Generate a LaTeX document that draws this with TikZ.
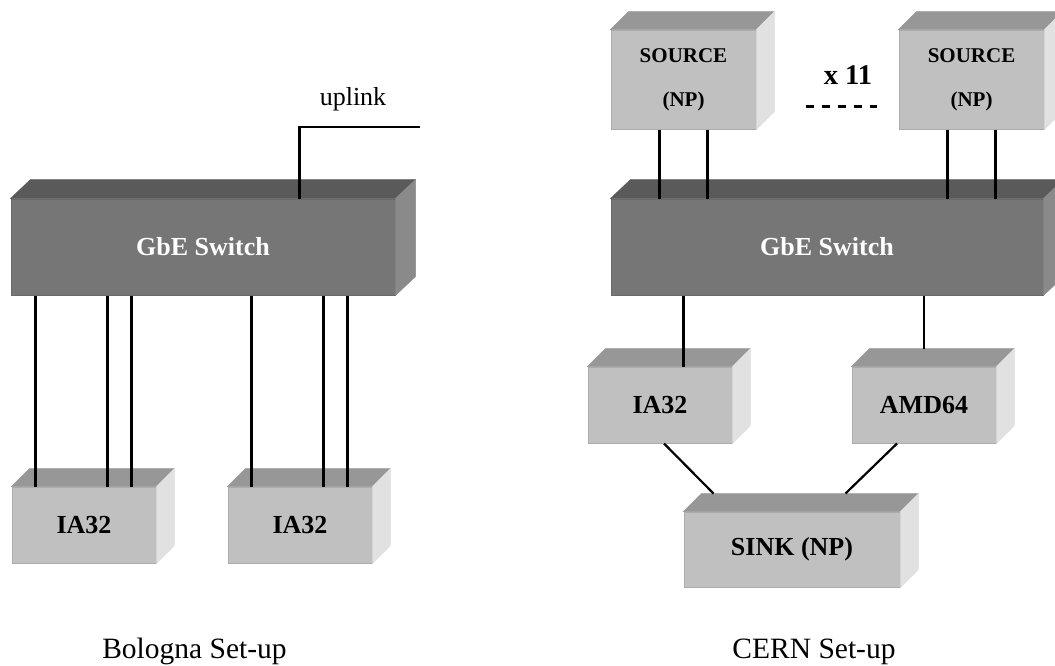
\documentclass[tikz,border=0pt]{standalone}
\usepackage{fontspec}
\setmainfont{Liberation Serif}
\usetikzlibrary{calc}

\definecolor{boxfront}{RGB}{192,192,192}
\definecolor{boxtop}{RGB}{151,151,151}
\definecolor{boxside}{RGB}{225,225,225}
\definecolor{boxedge}{RGB}{172,172,172}
\definecolor{swfront}{RGB}{118,118,118}
\definecolor{swtop}{RGB}{90,90,90}
\definecolor{swside}{RGB}{138,138,138}
\definecolor{swedge}{RGB}{105,105,105}

\begin{document}
\begin{tikzpicture}[x=1pt, y=-1pt, line width=2.2pt,
	box/.style={draw=boxedge, line width=1pt, fill=boxfront, inner sep=0pt, minimum width=144pt, minimum height=76pt, font=\fontsize{26}{30}\selectfont\bfseries},
	switch/.style={draw=swedge, line width=1pt, fill=swfront, inner sep=0pt, minimum height=96pt, text=white, font=\fontsize{26}{30}\selectfont\bfseries},
	source/.style={box, minimum width=145pt, minimum height=99pt, align=center, font=\fontsize{21}{44}\selectfont\bfseries},
	caption/.style={anchor=base, font=\fontsize{29.5}{32}\selectfont}]
	\useasboundingbox (0,0) rectangle (1055,665);
	\clip (0,0) rectangle (1055,665);

	% Bologna set-up
	\node[switch, minimum width=384pt] (bsw) at (203,247) {GbE Switch};
	\node[box] (bia1) at (84,525) {IA32};
	\node[box] (bia2) at (300,525) {IA32};

	% CERN set-up
	\node[source] (src1) at (683.5,79.5) {SOURCE\\(NP)};
	\node[source] (src2) at (971.5,79.5) {SOURCE\\(NP)};
	\node[switch, minimum width=432pt] (csw) at (827,247) {GbE Switch};
	\node[box] (cia) at (660,405) {IA32};
	\node[box] (amd) at (924,405) {AMD64};
	\node[box, minimum width=216pt, minimum height=75pt] (sink) at (792,549.5) {SINK (NP)};

	% top and side faces
	\foreach \n in {bsw,csw}{
		\filldraw[swtop, line width=.5pt] (\n.north west) -- ++(20,-19) -- ($(\n.north east)+(20,-19)$) -- (\n.north east) -- cycle;
		\filldraw[swside, line width=.5pt] (\n.north east) -- ++(20,-19) -- ($(\n.south east)+(20,-19)$) -- (\n.south east) -- cycle;
	}
	\foreach \n in {bia1,bia2,src1,src2,cia,amd,sink}{
		\filldraw[boxtop, line width=.5pt] (\n.north west) -- ++(18,-18) -- ($(\n.north east)+(18,-18)$) -- (\n.north east) -- cycle;
		\filldraw[boxside, line width=.5pt] (\n.north east) -- ++(18,-18) -- ($(\n.south east)+(18,-18)$) -- (\n.south east) -- cycle;
	}

	% links
	\foreach \n in {bia1,bia2}
		\foreach \dx in {24,96,120}
			\draw ([xshift=\dx pt]\n.north west) -- ([xshift=\dx pt]\n.north west |- bsw.south);
	\foreach \n in {src1,src2}
		\foreach \dx in {49,97}
			\draw ([xshift=\dx pt]\n.south west) -- ([xshift=\dx pt]\n.south west |- csw.north);
	\coordinate (uplinkend) at (420,127);
	\draw ([xshift=289pt]bsw.north west) |- (uplinkend);
	\node[anchor=base, font=\fontsize{26}{30}\selectfont] (uplink) at (353,105) {uplink};
	\draw ([xshift=96pt]cia.north west) -- ([xshift=96pt]cia.north west |- csw.south);
	\draw ([yshift=18pt]amd.north) -- (amd.north |- csw.south);
	\draw ([xshift=4pt]cia.south) -- ([xshift=30pt,yshift=18pt]sink.north west);
	\draw ([xshift=-27pt]amd.south) -- ([xshift=162pt,yshift=18pt]sink.north west);

	\node[anchor=base, font=\fontsize{28.5}{30}\selectfont\bfseries] (times) at (848,84) {x 11};
	\draw[line width=3pt, dash pattern=on 8pt off 8pt] ([xshift=49pt,yshift=-26.5pt]src1.east) -- ([xshift=-22pt,yshift=-26.5pt]src2.west);

	\node[caption] (bcap) at (194.5,658) {Bologna Set-up};
	\node[caption] (ccap) at (814,658) {CERN Set-up};
\end{tikzpicture}
\end{document}
